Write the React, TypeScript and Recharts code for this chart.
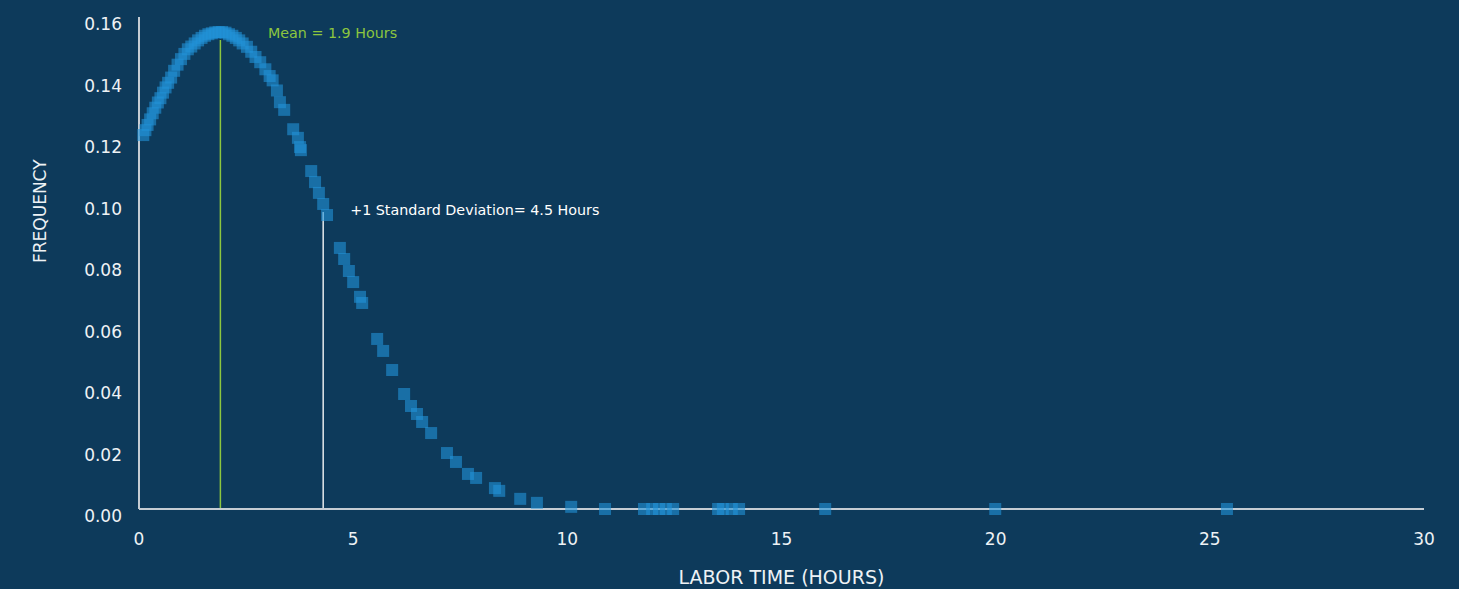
import { ScatterChart, Scatter, XAxis, YAxis, ReferenceLine, ReferenceDot, Label } from 'recharts';

// labor time (hours) and frequency
const hours = [
  0.1, 0.15, 0.2, 0.26, 0.32, 0.38, 0.44, 0.5, 0.56, 0.62, 0.68, 0.75, 0.82, 0.9, 0.98,
  1.06, 1.14, 1.22, 1.3, 1.38, 1.46, 1.54, 1.62, 1.7, 1.78, 1.86, 1.94, 2.02, 2.1, 2.18, 2.26,
  2.34, 2.42, 2.52, 2.62, 2.72, 2.83, 2.95, 3.05, 3.12, 3.22, 3.29, 3.39,
  3.6, 3.71, 3.76, 3.78, 4.02, 4.11, 4.2, 4.3, 4.39, 4.69, 4.79, 4.9, 5.0, 5.16, 5.21,
  5.56, 5.7, 5.91, 6.19, 6.35, 6.49, 6.61, 6.82, 7.19, 7.4, 7.68, 7.87, 8.31, 8.41,
  8.9, 9.29, 10.09, 10.88, 11.79, 11.98, 12.14, 12.3, 12.47, 13.52, 13.63, 13.84, 14.01,
  16.02, 19.99, 25.4,
];
const frequency = [
  0.1216, 0.1232, 0.1249, 0.1267, 0.1287, 0.1305, 0.1322, 0.1336, 0.1354, 0.1371, 0.1386, 0.1403, 0.1425, 0.1445, 0.1463,
  0.148, 0.1495, 0.1504, 0.1514, 0.1524, 0.1532, 0.1539, 0.1544, 0.1547, 0.155, 0.1551, 0.1551, 0.1549, 0.1544, 0.1539, 0.1532,
  0.1524, 0.1514, 0.1503, 0.1487, 0.147, 0.1453, 0.143, 0.1408, 0.1394, 0.1361, 0.1323, 0.1298,
  0.1235, 0.1207, 0.1177, 0.1167, 0.1099, 0.1063, 0.1028, 0.0992, 0.0956, 0.0849, 0.0813, 0.0774, 0.0738, 0.069, 0.067,
  0.0553, 0.0514, 0.0452, 0.0374, 0.0335, 0.0309, 0.0283, 0.0247, 0.0182, 0.0153, 0.0114, 0.0101, 0.0068, 0.0059,
  0.0033, 0.002, 0.0007, 0, 0, 0, 0, 0, 0, 0, 0, 0, 0,
  0, 0, 0,
];

const xTicks = [0, 5, 10, 15, 20, 25, 30];
const yTicks = [0, 0.02, 0.04, 0.06, 0.08, 0.1, 0.12, 0.14, 0.16];

const meanHours = 1.9;
const meanTop = 0.1525;
const meanText = 'Mean = 1.9 Hours';
const meanTextAt = { x: 3.01, y: 0.1548 };
const sdHours = 4.3;
const sdTop = 0.0966;
const sdText = '+1 Standard Deviation= 4.5 Hours';
const sdTextAt = { x: 4.93, y: 0.0972 };

const data = hours.map((h, i) => ({ hours: h, freq: frequency[i] }));

const BG = '#0d3a5b';
const AXIS = '#c5ccd3';
const GREEN = '#8cc63f';
const TEXT = '#eef2f5';
const FONT = '"DejaVu Sans", sans-serif';
const MARK = 12;

function YTick(props: any) {
  const { x, y, payload } = props;
  return (
    <text x={x} y={y + 7} dy="0.355em" textAnchor="end" fill={TEXT} fontSize={17} fontFamily={FONT}>
      {payload.value.toFixed(2)}
    </text>
  );
}

function SquareMark(props: any) {
  return <rect x={props.cx - MARK / 2} y={props.cy - MARK / 2} width={MARK} height={MARK} fill="#2293d8" fillOpacity={0.6} />;
}

function noteShape(text: string, color: string) {
  return (p: any) => (
    <text x={p.cx} y={p.cy} dy="0.355em" textAnchor="start" fill={color} fontSize={14.3} fontFamily={FONT}>
      {text}
    </text>
  );
}

function LaborChart() {
  return (
    <ScatterChart width={1459} height={589} margin={{ top: 17, right: 35, left: 0, bottom: 0 }} style={{ background: BG }}>
      <XAxis
        type="number"
        dataKey="hours"
        domain={[0, 30]}
        ticks={xTicks}
        axisLine={{ stroke: AXIS, strokeWidth: 2 }}
        tickLine={false}
        tickSize={0}
        tickMargin={24}
        height={80}
        tick={{ fill: TEXT, fontSize: 17, fontFamily: FONT }}
      >
        <Label value="LABOR TIME (HOURS)" position="insideBottom" offset={5} fill={TEXT} fontSize={19} fontFamily={FONT} />
      </XAxis>
      <YAxis
        type="number"
        dataKey="freq"
        domain={[0, 0.16]}
        ticks={yTicks}
        axisLine={{ stroke: AXIS, strokeWidth: 2 }}
        tickLine={false}
        tickSize={0}
        tickMargin={17}
        width={139}
        tick={<YTick />}
      >
        <Label value="FREQUENCY" angle={-90} position="insideLeft" offset={40} fill={TEXT} fontSize={17} fontFamily={FONT} />
      </YAxis>
      <ReferenceLine segment={[{ x: meanHours, y: 0 }, { x: meanHours, y: meanTop }]} stroke={GREEN} strokeWidth={1.5} />
      <ReferenceLine segment={[{ x: sdHours, y: 0 }, { x: sdHours, y: sdTop }]} stroke="#e6e9ec" strokeWidth={1.5} />
      <Scatter data={data} shape={<SquareMark />} isAnimationActive={false} />
      <ReferenceDot x={meanTextAt.x} y={meanTextAt.y} r={0} shape={noteShape(meanText, GREEN)} />
      <ReferenceDot x={sdTextAt.x} y={sdTextAt.y} r={0} shape={noteShape(sdText, '#ffffff')} />
    </ScatterChart>
  );
}

export default function App() {
  return (
    <div style={{ width: 1459, height: 589, background: BG }}>
      <style>{'body{margin:0;}'}</style>
      <LaborChart />
    </div>
  );
}
